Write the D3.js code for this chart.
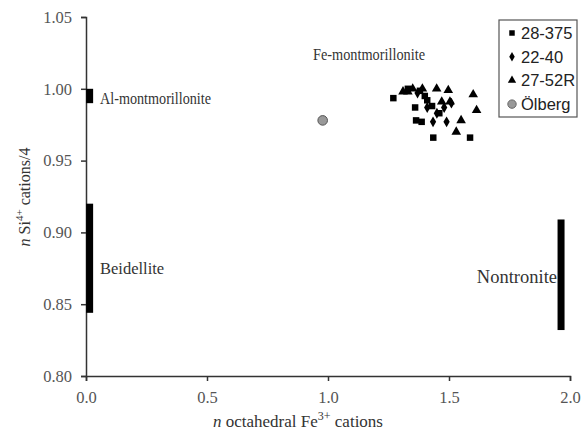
<!DOCTYPE html>
<html><head><meta charset="utf-8">
<script src="https://cdn.jsdelivr.net/npm/d3@7"></script>
<style>body{margin:0;background:#fff}svg{display:block}</style>
</head><body><svg id="c" width="582" height="432"></svg>
<script>
const xTicks = [0, 0.5, 1.0, 1.5, 2.0];
const yTicks = [0.80, 0.85, 0.90, 0.95, 1.00, 1.05];
const s28_375 = [[1.27,0.9935],[1.36,0.987],[1.364,0.978],[1.387,0.977],[1.435,0.966],[1.587,0.966],[1.43,0.988],[1.33,1.0],[1.38,0.9986],[1.40,0.995],[1.41,0.992],[1.46,0.983]];
const s22_40 = [[1.434,0.977],[1.49,0.977],[1.45,0.983],[1.51,0.99],[1.48,0.987],[1.41,0.987],[1.37,0.997]];
const s27_52R = [[1.449,1.0],[1.497,0.999],[1.60,0.996],[1.614,0.985],[1.47,0.991],[1.504,0.991],[1.55,0.978],[1.53,0.970],[1.33,0.998],[1.35,1.0],[1.39,1.0],[1.31,0.998]];
const olberg = [[0.978,0.978]];
const ranges = [
  {name:"Al-montmorillonite", x:0.015, y0:0.990, y1:1.000},
  {name:"Beidellite", x:0.015, y0:0.844, y1:0.920},
  {name:"Nontronite", x:1.963, y0:0.832, y1:0.909}
];
const legendNames = ["28-375","22-40","27-52R","Ölberg"];

const svg = d3.select("#c");
const x = d3.scaleLinear().domain([0,2]).range([86,570]);
const y = d3.scaleLinear().domain([0.80,1.05]).range([376,17]);
const serif = "'Liberation Serif','Times New Roman',serif";

const xa = svg.append("g").attr("transform","translate(0,376)")
  .call(d3.axisBottom(x).tickValues(xTicks).tickFormat(d3.format(".1f")).tickSize(5).tickPadding(10));
const ya = svg.append("g").attr("transform","translate(86,0)")
  .call(d3.axisLeft(y).tickValues(yTicks).tickFormat(d3.format(".2f")).tickSize(5).tickPadding(9));
[xa,ya].forEach(a=>{
  a.select(".domain").attr("stroke","#333").attr("stroke-width",1.5);
  a.selectAll(".tick line").attr("stroke","#333").attr("stroke-width",1.5);
  a.selectAll(".tick text").attr("font-family",serif).attr("font-size",16.5).attr("fill","#555");
});

// range bars
svg.selectAll(".rb").data(ranges).enter().append("rect")
  .attr("x",d=>x(d.x)-3.5).attr("width",7)
  .attr("y",d=>y(d.y1)).attr("height",d=>y(d.y0)-y(d.y1)).attr("fill","#000");

// region labels
const lab = [
  {t:"Al-montmorillonite", px:100, py:104, a:"start", s:16, w:111},
  {t:"Beidellite", px:100, py:274, a:"start", s:16.5, w:0},
  {t:"Nontronite", px:557, py:283, a:"end", s:18.5, w:0},
  {t:"Fe-montmorillonite", px:313, py:60, a:"start", s:16, w:112}
];
const lt = svg.selectAll(".lab").data(lab).enter().append("text")
  .attr("x",d=>d.px).attr("y",d=>d.py).attr("text-anchor",d=>d.a)
  .attr("font-family",serif).attr("font-size",d=>d.s).attr("fill","#333").text(d=>d.t);
lt.filter(d=>d.w>0).attr("textLength",d=>d.w).attr("lengthAdjust","spacingAndGlyphs");

// markers
const sym = (type,size)=>d3.symbol().type(type).size(size)();
const g = svg.append("g");
g.selectAll(".sq").data(s28_375).enter().append("path").attr("d",sym(d3.symbolSquare,42))
  .attr("transform",d=>`translate(${x(d[0])},${y(d[1])})`).attr("fill","#000");
g.selectAll(".di").data(s22_40).enter().append("path").attr("d",sym(d3.symbolDiamond,34))
  .attr("transform",d=>`translate(${x(d[0])},${y(d[1])})`).attr("fill","#000");
g.selectAll(".tr").data(s27_52R).enter().append("path").attr("d",sym(d3.symbolTriangle,40))
  .attr("transform",d=>`translate(${x(d[0])},${y(d[1])})`).attr("fill","#000");
g.selectAll(".ci").data(olberg).enter().append("circle").attr("r",4.8)
  .attr("cx",d=>x(d[0])).attr("cy",d=>y(d[1])).attr("fill","#999").attr("stroke","#555").attr("stroke-width",1);

// axis titles
const xt = svg.append("text").attr("x",298).attr("y",427).attr("text-anchor","middle")
  .attr("font-family",serif).attr("font-size",17).attr("fill","#333");
xt.append("tspan").attr("font-style","italic").text("n");
xt.append("tspan").text(" octahedral Fe");
xt.append("tspan").attr("font-size",12).attr("dy",-7).text("3+");
xt.append("tspan").attr("dy",7).text(" cations");

const yt = svg.append("text").attr("transform","translate(30,197) rotate(-90)").attr("text-anchor","middle")
  .attr("font-family",serif).attr("font-size",16).attr("fill","#333");
yt.append("tspan").attr("font-style","italic").text("n");
yt.append("tspan").text(" Si");
yt.append("tspan").attr("font-size",11).attr("dy",-7).text("4+");
yt.append("tspan").attr("dy",7).text(" cations/4");

// legend
const lg = svg.append("g");
lg.append("rect").attr("x",499).attr("y",20).attr("width",78).attr("height",97)
  .attr("fill","#fff").attr("stroke","#555").attr("stroke-width",1.2);
const lsyms = [d3.symbolSquare,d3.symbolDiamond,d3.symbolTriangle,null];
legendNames.forEach((n,i)=>{
  const cy = 33 + i*23.7;
  if(lsyms[i]) lg.append("path").attr("d",sym(lsyms[i], i===1?26:30)).attr("transform",`translate(512,${cy})`).attr("fill","#000");
  else lg.append("circle").attr("cx",512).attr("cy",cy).attr("r",4.2).attr("fill","#999").attr("stroke","#666");
  lg.append("text").attr("x",521).attr("y",cy+6).attr("font-family","'Liberation Sans',Arial,sans-serif")
    .attr("font-size",16.5).attr("fill","#222").text(n);
});
</script></body></html>
